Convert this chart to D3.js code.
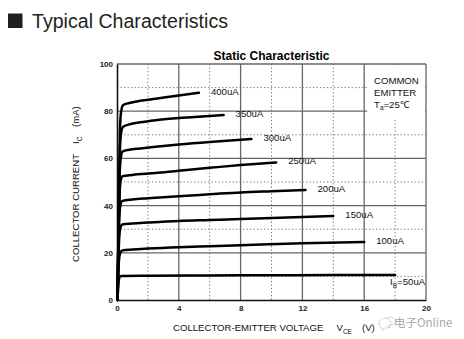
<!DOCTYPE html>
<html>
<head>
<meta charset="utf-8">
<script src="https://cdn.jsdelivr.net/npm/d3@7/dist/d3.min.js"></script>
<style>
  html, body { margin: 0; padding: 0; background: #fff; }
  svg { display: block; font-family: "Liberation Sans", Arial, sans-serif; }
</style>
</head>
<body>
<svg id="chart" width="464" height="339"></svg>
<script>
// Collector-emitter voltage ticks (V) and collector current ticks (mA)
const xTicks = [0, 4, 8, 12, 16, 20];
const yTicks = [0, 20, 40, 60, 80, 100];
const xMinor = [2, 6, 10, 14, 18];
const yMinor = [10, 30, 50, 70, 90];

// Base current labels for each curve
const baseCurrents = ["400uA", "350uA", "300uA", "250uA", "200uA", "150uA", "100uA", "50uA"];

// Ic (mA) vs Vce (V) curves, one per base current
const ib400 = [[0.03,0],[0.19,72],[0.27,80],[0.4,82.6],[0.8,83.5],[1.5,84.4],[2.5,85.3],[4,86.7],[5.3,87.8]];
const ib350 = [[0.03,0],[0.18,62],[0.26,70.5],[0.38,73.3],[0.8,74.4],[1.5,75.3],[2.5,76.2],[4,77.1],[5.5,77.8],[6.9,78.4]];
const ib300 = [[0.03,0],[0.17,53],[0.25,60.5],[0.37,63],[0.8,63.7],[1.5,64.2],[2.5,64.9],[4,65.9],[6,67],[8.7,68.2]];
const ib250 = [[0.03,0],[0.16,44],[0.24,50.5],[0.36,52.5],[1,53],[2.5,53.8],[4,54.8],[6,56],[8,57.2],[10.3,58.3]];
const ib200 = [[0.03,0],[0.15,35],[0.23,40.5],[0.35,42],[1,42.6],[2,43.1],[4,44],[6,44.8],[8,45.6],[10,46.1],[12.2,46.6]];
const ib150 = [[0.03,0],[0.14,26],[0.22,30.5],[0.34,32],[1,32.4],[2,32.8],[4,33.5],[6,33.9],[8,34.3],[11,35],[14,35.6]];
const ib100 = [[0.03,0],[0.13,17],[0.21,20],[0.33,21],[1,21.4],[2,21.8],[4,22.4],[6,22.8],[8,23.2],[12,24],[16,24.6]];
const ib50  = [[0.03,0],[0.12,8.5],[0.2,10],[0.32,10.2],[2,10.3],[6,10.4],[10,10.5],[14,10.6],[18,10.6]];
const curves = [ib400, ib350, ib300, ib250, ib200, ib150, ib100, ib50];

const svg = d3.select("#chart");

// Page heading
svg.append("rect").attr("x", 8).attr("y", 13.5).attr("width", 14.5).attr("height", 14.5).attr("fill", "#231f20");
svg.append("text").attr("x", 32).attr("y", 27.5)
  .attr("font-size", 19.6).attr("fill", "#231f20")
  .text("Typical Characteristics");

const plotL = 117, plotR = 426, plotT = 64, plotB = 300;
const x = d3.scaleLinear().domain([0, 20]).range([plotL, plotR]);
const y = d3.scaleLinear().domain([0, 100]).range([plotB, plotT]);

// Chart title
svg.append("text").attr("x", (plotL + plotR) / 2).attr("y", 60)
  .attr("text-anchor", "middle").attr("font-size", 12).attr("font-weight", "bold")
  .text("Static Characteristic");

const g = svg.append("g");

// Dotted minor grid
g.selectAll(".vminor").data(xMinor).join("line")
  .attr("x1", d => x(d)).attr("x2", d => x(d)).attr("y1", plotT).attr("y2", plotB)
  .attr("stroke", "#777").attr("stroke-width", 1).attr("stroke-dasharray", "1.3,2.2");
g.selectAll(".hminor").data(yMinor).join("line")
  .attr("y1", d => y(d)).attr("y2", d => y(d)).attr("x1", plotL).attr("x2", plotR)
  .attr("stroke", "#777").attr("stroke-width", 1).attr("stroke-dasharray", "1.3,2.2");

// Solid major grid
g.selectAll(".vmajor").data(xTicks.slice(1)).join("line")
  .attr("x1", d => x(d)).attr("x2", d => x(d)).attr("y1", plotT).attr("y2", plotB)
  .attr("stroke", "#666").attr("stroke-width", 1.3);
g.selectAll(".hmajor").data(yTicks.slice(1)).join("line")
  .attr("y1", d => y(d)).attr("y2", d => y(d)).attr("x1", plotL).attr("x2", plotR)
  .attr("stroke", "#666").attr("stroke-width", 1.3);

// Blank panel behind the test-condition note
g.append("rect").attr("x", x(16) + 3).attr("y", plotT + 1)
  .attr("width", x(20) - x(16) - 4).attr("height", 54).attr("fill", "#fff");

// Axes
const xAxis = d3.axisBottom(x).tickValues(xTicks).tickSize(0).tickPadding(5);
const yAxis = d3.axisLeft(y).tickValues(yTicks).tickSize(0).tickPadding(4);
const gx = svg.append("g").attr("transform", `translate(0,${plotB})`).call(xAxis);
const gy = svg.append("g").attr("transform", `translate(${plotL},0)`).call(yAxis);
[gx, gy].forEach(a => {
  a.select(".domain").attr("stroke", "#111").attr("stroke-width", 1.6);
  a.selectAll("text").attr("font-size", 8).attr("font-weight", "bold")
    .attr("font-family", "'Liberation Sans', Arial, sans-serif").attr("fill", "#222");
});

// Characteristic curves
const line = d3.line().x(d => x(d[0])).y(d => y(d[1])).curve(d3.curveMonotoneX);
svg.append("g").selectAll("path").data(curves).join("path")
  .attr("d", line).attr("fill", "none").attr("stroke", "#000")
  .attr("stroke-width", 2.5).attr("stroke-linejoin", "round").attr("stroke-linecap", "round");

// Base-current labels at the end of each curve
const lab = svg.append("g").attr("font-size", 9.6).attr("fill", "#111");
curves.forEach((c, i) => {
  const end = c[c.length - 1];
  if (i < curves.length - 1) {
    lab.append("text").attr("x", x(end[0]) + 12).attr("y", y(end[1]) + 2).text(baseCurrents[i]);
  } else {
    const t = lab.append("text").attr("x", x(end[0]) - 5).attr("y", y(end[1]) + 10.5);
    t.append("tspan").text("I");
    t.append("tspan").attr("font-size", 6.5).attr("dy", 2.5).text("B");
    t.append("tspan").attr("dy", -2.5).text("=" + baseCurrents[i]);
  }
});

// Test condition note
const note = svg.append("g").attr("font-size", 9.6).attr("fill", "#111");
note.append("text").attr("x", 374).attr("y", 83.5).text("COMMON");
note.append("text").attr("x", 374).attr("y", 95.5).text("EMITTER");
const ta = note.append("text").attr("x", 374).attr("y", 107.5);
ta.append("tspan").text("T");
ta.append("tspan").attr("font-size", 6.5).attr("dy", 2.5).text("a");
ta.append("tspan").attr("dy", -2.5).text("=25\u2103");

// Axis titles
const xt = svg.append("text").attr("x", 173).attr("y", 331).attr("font-size", 9.6).attr("fill", "#111");
xt.append("tspan").text("COLLECTOR-EMITTER VOLTAGE");
xt.append("tspan").attr("x", 336.5).text("V");
xt.append("tspan").attr("font-size", 6.5).attr("dy", 2.5).text("CE");
xt.append("tspan").attr("x", 362).attr("dy", -2.5).text("(V)");

const yt = svg.append("text").attr("transform", "translate(79,262) rotate(-90)")
  .attr("font-size", 9.6).attr("fill", "#111");
yt.append("tspan").text("COLLECTOR CURRENT");
yt.append("tspan").attr("x", 118).text("I");
yt.append("tspan").attr("font-size", 6.5).attr("dy", 2.5).text("C");
yt.append("tspan").attr("x", 135).attr("dy", -2.5).text("(mA)");

// Publisher mark
const wm = svg.append("g").attr("fill", "none").attr("stroke", "#b5b5b5").attr("stroke-width", 1);
wm.append("path").attr("d", "M379,324 a6,5 0 1,1 6,4 l-3,2 z").attr("stroke-dasharray", "1.5,1.2");
wm.append("path").attr("d", "M386,319 a5,4 0 1,1 3,6 l1,3 -3,-2").attr("stroke-dasharray", "1.5,1.2");
svg.append("text").attr("x", 394).attr("y", 327)
  .attr("font-family", "'Noto Sans CJK SC', 'Noto Sans', sans-serif")
  .attr("font-size", 11.5).attr("fill", "#a8a8a8").text("电子Online");
</script>
</body>
</html>
